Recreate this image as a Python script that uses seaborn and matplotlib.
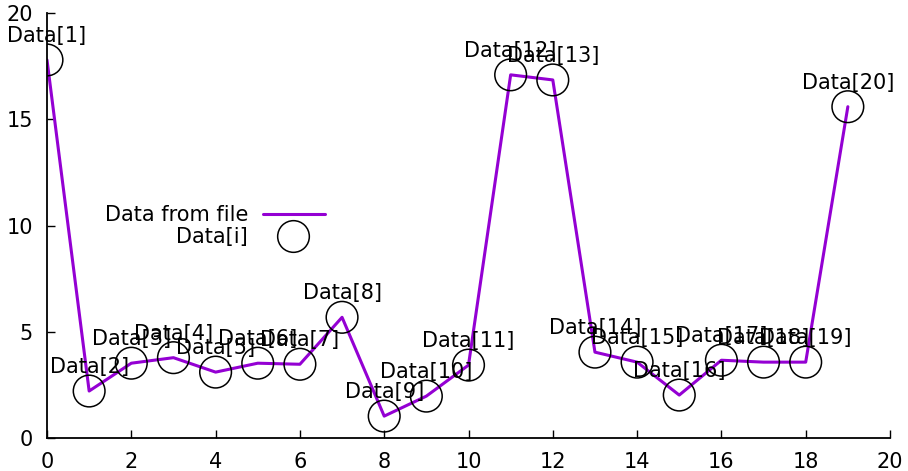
import numpy as np
import pandas as pd
import matplotlib
matplotlib.use("Agg")
import matplotlib.pyplot as plt
import seaborn as sns
from matplotlib.lines import Line2D

# data
x_vals = list(range(20))
y_vals = [17.79, 2.21, 3.52, 3.78, 3.10, 3.52, 3.47, 5.68, 1.03, 1.97,
          3.43, 17.09, 16.85, 4.04, 3.57, 2.02, 3.66, 3.57, 3.57, 15.59]
point_labels = ["Data[%d]" % (i + 1) for i in range(20)]
x_ticks = [0, 2, 4, 6, 8, 10, 12, 14, 16, 18, 20]
y_ticks = [0, 5, 10, 15, 20]

df = pd.DataFrame({"x": x_vals, "y": y_vals, "label": point_labels})

sns.set_style("white")
plt.rcParams["font.family"] = ["DejaVu Sans"]
plt.rcParams["font.size"] = 15
plt.rcParams["text.color"] = "black"

fig = plt.figure(figsize=(9.08, 4.71), dpi=100)
ax = fig.add_axes([47 / 908, 33 / 471, 843 / 908, 425 / 471])

purple = "#9400D3"
sns.lineplot(data=df, x="x", y="y", color=purple, linewidth=2.2, ax=ax, zorder=2)
sns.scatterplot(data=df, x="x", y="y", marker="o", s=520, facecolor="none",
                edgecolor="black", linewidth=1.1, ax=ax, zorder=3)

# point labels above each circle
for _, row in df.iterrows():
    ax.annotate(row["label"], (row["x"], row["y"]), xytext=(0, 24),
                textcoords="offset pixels", ha="center", va="center",
                fontsize=15, color="black", annotation_clip=False, zorder=4)

ax.set_xlim(0, 20)
ax.set_ylim(0, 20)
ax.set_xticks(x_ticks)
ax.set_yticks(y_ticks)
ax.set_xlabel("")
ax.set_ylabel("")
for side in ["top", "right"]:
    ax.spines[side].set_visible(False)
for side in ["left", "bottom"]:
    ax.spines[side].set_color("black")
    ax.spines[side].set_linewidth(1.3)
ax.tick_params(direction="in", length=6, width=1, colors="black",
               labelsize=15, pad=10, left=True, bottom=True)

# hand drawn key, text right aligned like gnuplot
ax.text(0.2384, 0.5247, "Data from file", transform=ax.transAxes,
        ha="right", va="center", fontsize=15, color="black")
ax.text(0.2384, 0.473, "Data[i]", transform=ax.transAxes,
        ha="right", va="center", fontsize=15, color="black")
ax.add_line(Line2D([0.256, 0.33], [0.527, 0.527], transform=ax.transAxes,
                   color=purple, linewidth=2.2))
ax.add_line(Line2D([0.292], [0.475], transform=ax.transAxes, marker="o",
                   markersize=22.8, markerfacecolor="none",
                   markeredgecolor="black", markeredgewidth=1.1))

fig.savefig("out.png", dpi=100)
